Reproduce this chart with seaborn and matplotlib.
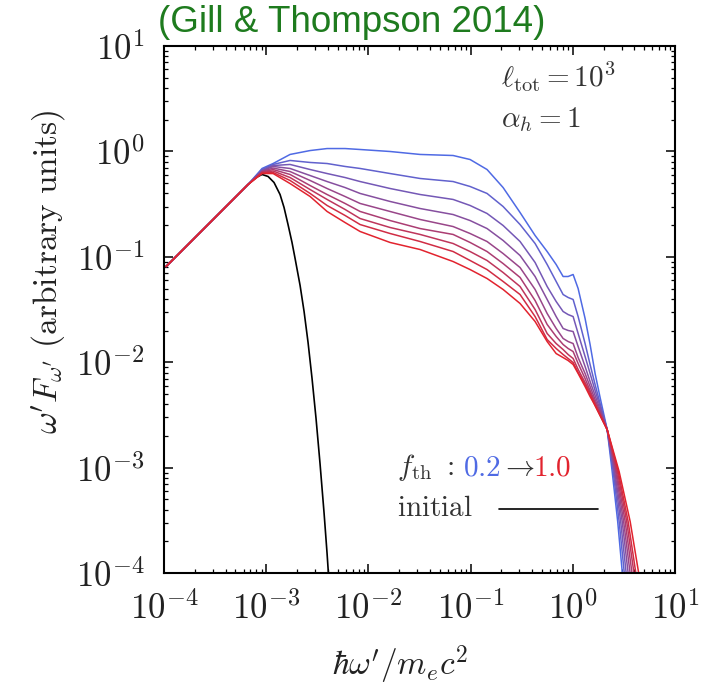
import numpy as np
import pandas as pd
import matplotlib
matplotlib.use("Agg")
import matplotlib.pyplot as plt
import seaborn as sns
from matplotlib.ticker import LogLocator, FuncFormatter, NullFormatter

# log10 of photon energy (hbar omega' / m_e c^2), common grid up to the pivot point
log_energy = [-3.980, -3.178, -3.041, -2.933, -2.767, -2.571, -2.405, -2.229, -2.082,
              -1.789, -1.495, -1.172, -1.006, -0.840, -0.683, -0.517, -0.370, -0.252,
              -0.164, -0.096, -0.047, 0.002, 0.051, 0.119, 0.168, 0.217, 0.266, 0.335]

# thermal fractions of the dissipated energy
f_th = [0.2, 0.3, 0.4, 0.5, 0.6, 0.7, 0.8, 0.9, 1.0]

# log10 of omega' F_omega' on the common grid, one list per f_th
flux_f02 = [-1.091, -0.313, -0.161, -0.114, -0.028, 0.009, 0.028, 0.028, 0.019,
            0.000, -0.028, -0.038, -0.076, -0.171, -0.342, -0.579, -0.797, -0.949,
            -1.072, -1.186, -1.186, -1.167, -1.300, -1.584, -1.831, -2.106, -2.334, -2.638]
flux_f03 = [-1.091, -0.313, -0.171, -0.123, -0.085, -0.104, -0.114, -0.142, -0.161,
            -0.209, -0.256, -0.285, -0.332, -0.398, -0.522, -0.693, -0.873, -1.072,
            -1.233, -1.357, -1.385, -1.404, -1.566, -1.822, -2.021, -2.211, -2.391, -2.638]
flux_f04 = [-1.091, -0.313, -0.180, -0.133, -0.123, -0.171, -0.209, -0.247, -0.285,
            -0.351, -0.408, -0.455, -0.512, -0.588, -0.702, -0.854, -1.053, -1.281,
            -1.423, -1.518, -1.547, -1.566, -1.727, -1.945, -2.106, -2.268, -2.419, -2.638]
flux_f05 = [-1.091, -0.313, -0.185, -0.142, -0.161, -0.228, -0.285, -0.342, -0.398,
            -0.474, -0.541, -0.598, -0.655, -0.731, -0.844, -0.987, -1.186, -1.404,
            -1.566, -1.679, -1.698, -1.708, -1.850, -2.040, -2.182, -2.315, -2.448, -2.638]
flux_f06 = [-1.091, -0.313, -0.190, -0.157, -0.190, -0.275, -0.351, -0.427, -0.493,
            -0.569, -0.645, -0.712, -0.778, -0.854, -0.968, -1.101, -1.309, -1.537,
            -1.679, -1.774, -1.803, -1.822, -1.955, -2.106, -2.230, -2.353, -2.467, -2.638]
flux_f07 = [-1.091, -0.313, -0.195, -0.171, -0.218, -0.323, -0.408, -0.493, -0.569,
            -0.655, -0.731, -0.787, -0.863, -0.949, -1.063, -1.195, -1.414, -1.641,
            -1.755, -1.831, -1.869, -1.898, -2.011, -2.154, -2.268, -2.381, -2.486, -2.638]
flux_f08 = [-1.091, -0.313, -0.199, -0.185, -0.247, -0.361, -0.455, -0.550, -0.636,
            -0.721, -0.787, -0.873, -0.949, -1.034, -1.148, -1.281, -1.499, -1.727,
            -1.822, -1.879, -1.926, -1.964, -2.068, -2.192, -2.287, -2.391, -2.495, -2.638]
flux_f09 = [-1.091, -0.313, -0.204, -0.199, -0.275, -0.398, -0.512, -0.607, -0.693,
            -0.778, -0.854, -0.949, -1.034, -1.120, -1.233, -1.357, -1.566, -1.784,
            -1.869, -1.926, -1.964, -2.002, -2.097, -2.211, -2.306, -2.410, -2.505, -2.638]
flux_f10 = [-1.091, -0.313, -0.209, -0.209, -0.304, -0.427, -0.569, -0.674, -0.759,
            -0.863, -0.930, -1.044, -1.120, -1.205, -1.309, -1.442, -1.613, -1.803,
            -1.917, -1.955, -1.983, -2.021, -2.106, -2.230, -2.325, -2.410, -2.505, -2.638]

# high-energy tails beyond the pivot: log10 flux levels and log10 energies per f_th
tail_flux = [-3.036, -3.51, -4.08]
tail_f02 = [0.384, 0.438, 0.491]
tail_f03 = [0.394, 0.452, 0.511]
tail_f04 = [0.402, 0.467, 0.530]
tail_f05 = [0.409, 0.482, 0.550]
tail_f06 = [0.418, 0.496, 0.570]
tail_f07 = [0.426, 0.511, 0.589]
tail_f08 = [0.435, 0.526, 0.609]
tail_f09 = [0.443, 0.540, 0.628]
tail_f10 = [0.452, 0.560, 0.657]

# initial (seed) thermal spectrum, log10 energy and log10 flux
initial_energy = [-3.980, -3.178, -3.100, -3.041, -2.982, -2.924, -2.865, -2.826,
                  -2.787, -2.748, -2.718, -2.669, -2.630, -2.591, -2.552, -2.513,
                  -2.474, -2.434, -2.405, -2.386]
initial_flux = [-1.091, -0.313, -0.247, -0.218, -0.237, -0.294, -0.408, -0.531,
                -0.693, -0.863, -1.015, -1.271, -1.518, -1.812, -2.154, -2.533,
                -2.960, -3.435, -3.814, -4.089]

fluxes = [flux_f02, flux_f03, flux_f04, flux_f05, flux_f06,
          flux_f07, flux_f08, flux_f09, flux_f10]
tails = [tail_f02, tail_f03, tail_f04, tail_f05, tail_f06,
         tail_f07, tail_f08, tail_f09, tail_f10]

rows = []
for f, fl, tl in zip(f_th, fluxes, tails):
    for le, lf in zip(log_energy + tl, fl + tail_flux):
        rows.append({"energy": 10 ** le, "flux": 10 ** lf, "f_th": f"{f:.1f}"})
spectra = pd.DataFrame(rows)
initial = pd.DataFrame({"energy": 10 ** np.array(initial_energy),
                        "flux": 10 ** np.array(initial_flux)})

sns.set_style("ticks")
plt.rcParams["mathtext.fontset"] = "cm"
plt.rcParams["font.family"] = ["DejaVu Sans"]

fig = plt.figure(figsize=(7.04, 6.88), dpi=100)
ax = fig.add_axes([0.233, 0.167, 0.726, 0.766])

blue, red = "#4f6ae4", "#e2232e"
palette = sns.blend_palette([blue, red], len(f_th))
hue_order = [f"{f:.1f}" for f in f_th]

sns.lineplot(data=initial, x="energy", y="flux", color="black", lw=1.2,
             estimator=None, sort=False, ax=ax)
sns.lineplot(data=spectra, x="energy", y="flux", hue="f_th", hue_order=hue_order,
             palette=palette, estimator=None, sort=False, lw=1.1, legend=False, ax=ax)

ax.set_xscale("log")
ax.set_yscale("log")
ax.set_xlim(1e-4, 1e1)
ax.set_ylim(1e-4, 1e1)

fmt = FuncFormatter(lambda v, _: r"$10^{%d}$" % round(np.log10(v)))
for axis in (ax.xaxis, ax.yaxis):
    axis.set_major_locator(LogLocator(base=10, numticks=10))
    axis.set_minor_locator(LogLocator(base=10, subs=np.arange(2, 10), numticks=20))
    axis.set_major_formatter(fmt)
    axis.set_minor_formatter(NullFormatter())

ax.tick_params(which="both", direction="in", top=True, right=True, colors="black")
ax.tick_params(which="major", length=6.5, width=1.1, labelsize=25, labelcolor="#222222")
ax.tick_params(axis="x", which="major", pad=13)
ax.tick_params(axis="y", which="major", pad=14)
ax.tick_params(which="minor", length=3.2, width=0.9)
for sp in ax.spines.values():
    sp.set_linewidth(1.5)
    sp.set_color("black")

ax.set_xlabel(r"$\hbar\omega'/m_e c^2$", fontsize=24, color="#222222")
ax.set_ylabel(r"$\omega' F_{\omega'}\ \mathrm{(arbitrary\ units)}$", fontsize=24, color="#222222")
ax.xaxis.set_label_coords(0.462, -0.133)
ax.yaxis.set_label_coords(-0.19, 0.571)

txt_kw = dict(transform=ax.transAxes, fontsize=21, color="#333333")
ax.text(0.66, 0.941, r"$\ell_{\rm tot} = 10^3$", va="center", ha="left", **txt_kw)
ax.text(0.66, 0.860, r"$\alpha_h = 1$", va="center", ha="left", **txt_kw)

# colour-coded f_th range, assembled piece by piece on a shared baseline
y_base = 0.186
t0 = ax.text(0.456, y_base, r"$f_{\rm th}\ :$", va="baseline", ha="left", **txt_kw)
prev = t0
for s, c, gap in [(r"$0.2$", blue, 6.5), (r"$\rightarrow$", "#333333", -0.8),
                  (r"$1.0$", red, -1.0)]:
    prev = ax.annotate(s, xy=(1, y_base), xycoords=(prev, "axes fraction"),
                       xytext=(gap, 0), textcoords="offset points",
                       va="baseline", ha="left", fontsize=21, color=c)

ax.text(0.456, 0.108, r"$\mathrm{initial}$", va="baseline", ha="left", **txt_kw)
ax.plot([0.656, 0.849], [0.121, 0.121], transform=ax.transAxes, color="black", lw=1.2)

fig.text(0.5, 0.968, "(Gill & Thompson 2014)", ha="center", va="center",
         fontsize=26.5, color="#1e7b1e", family=["Liberation Sans", "DejaVu Sans"])

fig.savefig("out.png", dpi=100)
